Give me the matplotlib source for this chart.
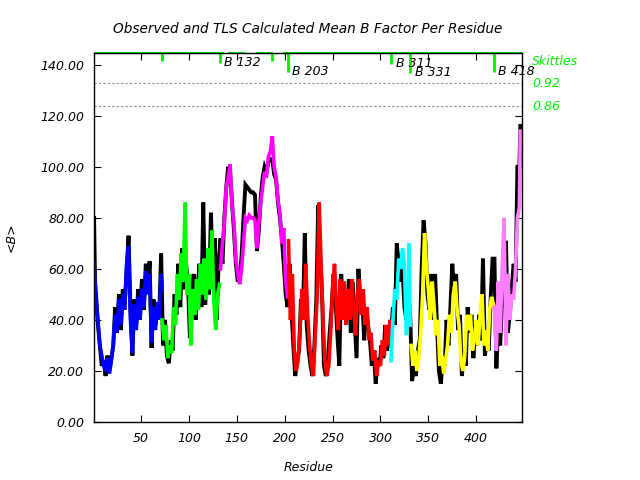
import matplotlib
matplotlib.use("Agg")
import matplotlib.pyplot as plt
from matplotlib.ticker import FormatStrFormatter

obs_res = ([1, 2, 3] + list(range(5, 72, 2)) + list(range(73, 132, 2)) + list(range(133, 204, 2))
           + list(range(205, 310, 2)) + list(range(311, 332, 2)) + list(range(333, 418, 2))
           + list(range(419, 446, 2)) + [446])
obs_val = [80, 55, 50, 38, 30, 22, 24, 18, 26, 20, 25, 30, 45, 38, 50, 36, 52, 46, 60, 73, 44, 26, 48,
           38, 52, 42, 56, 44, 62, 52, 63, 29, 48, 38, 44, 42, 66,
           30, 40, 26, 23, 32, 28, 50, 42, 62, 45, 68, 52, 62, 55, 33, 48, 58, 40, 52, 62, 45, 86, 46, 62,
           50, 82, 58, 72, 40, 62,
           72, 62, 80, 92, 100, 98, 86, 75, 62, 55, 57, 65, 80, 93, 92, 91, 90, 90, 89, 67,
           75, 88, 96, 100, 98, 102, 103, 103, 97, 95, 86, 80, 72, 62, 50, 45,
           62, 45, 30, 18, 24, 28, 48, 40, 74, 38, 28, 22, 18, 30, 48, 85, 66, 50, 22, 18,
           24, 35, 45, 58, 48, 34, 22, 58, 40, 52, 42, 56, 35, 55, 40, 25, 60, 45, 48, 32,
           45, 38, 32, 22, 28, 15, 25, 22, 30, 25, 38, 28, 35,
           35, 45, 38, 70, 62, 55, 60, 45, 40, 50, 42,
           16, 22, 18, 28, 32, 60, 79, 70, 50, 44, 58, 40, 58, 38, 20, 15, 24, 22, 40, 30,
           45, 62, 50, 58, 36, 42, 18, 28, 22, 45, 35, 42, 25, 38, 30, 42, 32, 64, 26, 32,
           28, 48, 64,
           64, 21, 40, 30, 48, 45, 71, 35, 42, 52, 62, 55, 100, 100, 116]

# TLS calculated mean B per residue, one list pair per TLS segment
seg_colors = ["#0000ff", "#00ff00", "#ff00ff", "#ff0000", "#00ffff", "#ffff00", "#ff80ff"]
seg_res = [
    list(range(1, 72, 2)) + [72],
    list(range(72, 133, 2)),
    list(range(133, 204, 2)),
    list(range(204, 311, 2)) + [311],
    list(range(311, 330, 2)) + [330, 331],
    list(range(332, 419, 2)),
    list(range(419, 446, 2)) + [446],
]
seg_val = [
    [62, 48, 40, 30, 26, 22, 20, 25, 19, 24, 30, 42, 35, 48, 38, 50, 44, 62, 69, 40,
     27, 46, 36, 49, 40, 52, 45, 59, 50, 58, 31, 45, 36, 47, 40, 58, 52],
    [40, 32, 38, 25, 30, 27, 45, 38, 58, 48, 66, 55, 86, 50, 58, 30, 52, 42, 56, 44,
     62, 50, 64, 48, 68, 52, 75, 48, 36, 50, 54],
    [60, 70, 78, 92, 96, 101, 85, 78, 64, 58, 54, 60, 70, 80, 79, 81, 80, 80, 79, 68,
     78, 86, 92, 98, 96, 104, 106, 112, 100, 96, 87, 82, 70, 76, 55, 49],
    [71, 40, 58, 28, 20, 24, 36, 52, 40, 62, 42, 30, 22, 18, 35, 50, 86, 62, 40, 24,
     18, 22, 35, 52, 62, 45, 36, 56, 40, 55, 38, 52, 40, 56, 44, 34, 50, 56, 42, 52,
     38, 45, 32, 35, 24, 28, 18, 24, 22, 32, 26, 38, 30, 40, 38],
    [24, 40, 52, 48, 64, 60, 68, 62, 34, 40, 70, 38],
    [30, 22, 28, 20, 25, 35, 50, 74, 60, 52, 40, 55, 45, 34, 40, 22, 26, 19, 24, 30,
     42, 35, 50, 55, 44, 38, 24, 20, 26, 42, 36, 42, 28, 32, 40, 30, 42, 50, 30, 36,
     28, 44, 49, 46],
    [45, 28, 55, 35, 60, 80, 30, 58, 40, 50, 48, 60, 80, 84, 114],
]

# Skittles markers (segment boundaries)
tick_res = [72, 132, 187, 203, 311, 331, 418]
tick_bottom = [141.6, 140.8, 141.6, 137.3, 140.4, 136.9, 137.3]
tick_label = ["", "B 132", "", "B 203", "B 311", "B 331", "B 418"]
top_segments = [(1, 137), (141, 159), (170, 188), (198, 448)]
skittle_levels = [132.9, 123.9]
skittle_texts = ["0.92", "0.86"]

font = dict(family="DejaVu Sans", style="italic", size=9)

fig = plt.figure(figsize=(6.4, 4.8), dpi=100)
ax = fig.add_axes([0.147, 0.121, 0.669, 0.769])

ax.plot(obs_res, obs_val, color="black", lw=2.8, solid_joinstyle="miter")
for r, v, c in zip(seg_res, seg_val, seg_colors):
    ax.plot(r, v, color=c, lw=2.6, solid_joinstyle="miter")

ymax = 144.7
ax.set_xlim(1, 448)
ax.set_ylim(0, ymax)

for lvl in skittle_levels:
    ax.axhline(lvl, color="#909090", lw=0.8, ls=(0, (2, 2)))

for a, b in top_segments:
    ax.plot([a, b], [ymax, ymax], color="#00ee00", lw=1.5, clip_on=False, solid_capstyle="butt")

for r, yb, lab in zip(tick_res, tick_bottom, tick_label):
    ax.plot([r, r], [ymax, yb], color="#00ee00", lw=2, solid_capstyle="butt")
    if lab:
        ax.annotate(lab, (r, yb), xytext=(3.5, 0), textcoords="offset points",
                    va="center", ha="left", color="black", **font)

trans = ax.get_yaxis_transform()
ax.text(1.023, 141.3, "Skittles", transform=trans, color="#00ee00", va="center", ha="left", **font)
for lvl, t in zip(skittle_levels, skittle_texts):
    ax.text(1.023, lvl - 0.3, t, transform=trans, color="#00ee00", va="center", ha="left", **font)

ax.set_xticks([50, 100, 150, 200, 250, 300, 350, 400])
ax.set_yticks([0, 20, 40, 60, 80, 100, 120, 140])
ax.yaxis.set_major_formatter(FormatStrFormatter("%.2f"))
ax.tick_params(direction="in", top=True, right=True, length=5, width=0.8, pad=7)
for lab in ax.get_xticklabels() + ax.get_yticklabels():
    lab.set_fontstyle("italic")
    lab.set_fontsize(9)
for s in ax.spines.values():
    s.set_linewidth(1.0)

ax.set_title("Observed and TLS Calculated Mean B Factor Per Residue", pad=14,
             family="DejaVu Sans", style="italic", size=9.8)
ax.set_xlabel("Residue", labelpad=12, **font)
ax.set_ylabel("<B>", labelpad=16, **font)

fig.savefig("out.png", dpi=100)
